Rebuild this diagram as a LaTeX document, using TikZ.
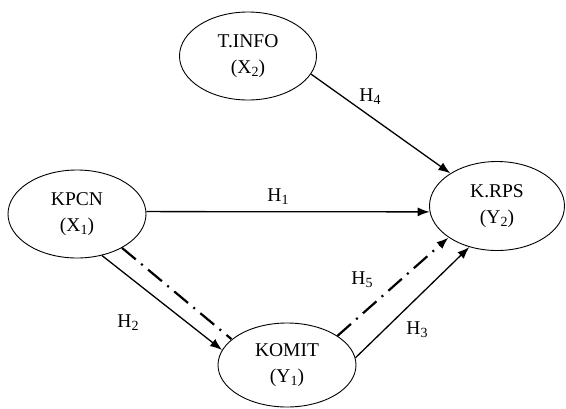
\documentclass[tikz,border=0pt]{standalone}
\usepackage{fontspec}
\setmainfont{Liberation Serif}
\usetikzlibrary{shapes.geometric,arrows.meta}
\newcommand{\lowsub}[1]{\raisebox{-0.35ex}{\fontsize{14}{14}\selectfont #1}}
\tikzset{
  var/.style={ellipse,draw,line width=0.9pt,inner sep=0pt,align=center,
    font=\fontsize{19.5}{26}\selectfont},
  solidarrow/.style={line width=1.3pt,-{Latex[length=12pt,width=9pt]}},
  dashdot/.style={line width=2.2pt,dash pattern=on 18pt off 7pt on 2pt off 7pt},
  hlabel/.style={font=\fontsize{19.5}{20}\selectfont,inner sep=0pt}
}
\begin{document}
\begin{tikzpicture}[x=1pt,y=-1pt]
\useasboundingbox (0,0) rectangle (566,408);
\node[var,minimum width=137pt,minimum height=88pt] (tinfo) at (248,56) {T.INFO\\(X\lowsub{2})};
\node[var,minimum width=138pt,minimum height=88pt] (kpcn) at (77,214) {KPCN\\(X\lowsub{1})};
\node[var,minimum width=135pt,minimum height=89pt] (krps) at (497,206) {K.RPS\\(Y\lowsub{2})};
\node[var,minimum width=138pt,minimum height=84pt] (komit) at (287,365) {KOMIT\\(Y\lowsub{1})};

\draw[solidarrow] (kpcn.2) -- (krps.185);
\draw[solidarrow] (tinfo.-16) -- (krps.145);
\draw[solidarrow] (kpcn.-59) -- (komit.167);
\draw[dashdot] (kpcn.-37) -- ([shift={(-8pt,-5pt)}]komit.147);
\draw[solidarrow] (komit.6) -- (krps.-124);
\draw[dashdot,-{Latex[length=12pt,width=9pt]}] (komit.30) -- (krps.213);

\node[hlabel] (h4) at (370,97) {H\lowsub{4}};
\node[hlabel] (h1) at (278,197) {H\lowsub{1}};
\node[hlabel] (h2) at (128,323) {H\lowsub{2}};
\node[hlabel] (h5) at (362,280) {H\lowsub{5}};
\node[hlabel] (h3) at (417,330) {H\lowsub{3}};
\end{tikzpicture}
\end{document}
